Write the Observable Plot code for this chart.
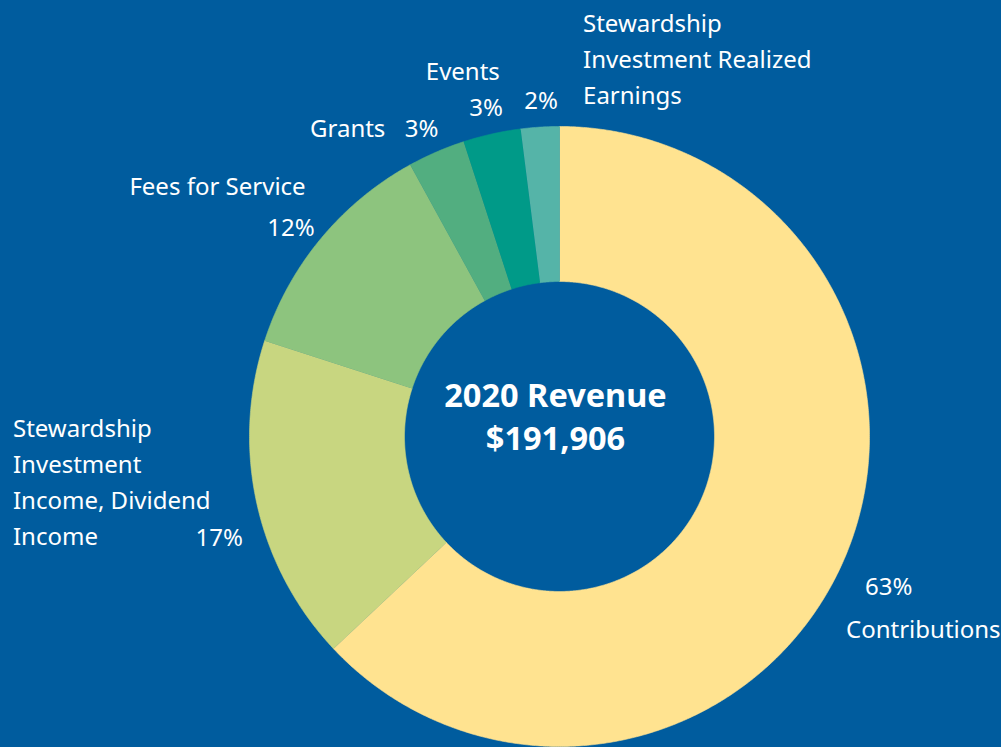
<!DOCTYPE html>
<html>
<head>
<meta charset="utf-8">
<script src="https://cdn.jsdelivr.net/npm/d3@7"></script>
<script src="https://cdn.jsdelivr.net/npm/@observablehq/plot@0.6"></script>
<style>
  html, body { margin: 0; padding: 0; background: #005C9E; }
  #chart svg { display: block; }
</style>
</head>
<body>
<div id="chart"></div>
<script>
// ---- data ----
const categories = [
  "Contributions",
  "Stewardship Investment Income, Dividend Income",
  "Fees for Service",
  "Grants",
  "Events",
  "Stewardship Investment Realized Earnings"
];
const displayNames = [
  "Contributions",
  "Stewardship\nInvestment\nIncome, Dividend\nIncome",
  "Fees for Service",
  "Grants",
  "Events",
  "Stewardship\nInvestment Realized\nEarnings"
];
const shares = [63, 17, 12, 3, 3, 2]; // percent
const centerTitle = "2020 Revenue";
const centerTotal = "$191,906";
const sliceColors = ["#FFE390", "#C8D680", "#8DC47E", "#52AE80", "#009A88", "#55B4A8"];

// ---- layout (pixel offsets from each slice's outer mid-point) ----
const W = 1001, H = 747;
const cx = 559, cy = 436, R = 310, r0 = 155;
const labelLayout = [
  {pct: {dx: 21, dy: 24, anchor: "start"},  name: {dx: 2,    dy: 67,   anchor: "start"}},
  {pct: {dx: -14, dy: 30, anchor: "end"},   name: {dx: -244, dy: -25,  anchor: "start"}},
  {pct: {dx: -6, dy: -14, anchor: "end"},   name: {dx: -15,  dy: -55,  anchor: "end"}},
  {pct: {dx: 2, dy: -27, anchor: "end"},    name: {dx: -51,  dy: -27,  anchor: "end"}},
  {pct: {dx: 11, dy: -29, anchor: "end"},   name: {dx: 8,    dy: -65,  anchor: "end"}},
  {pct: {dx: 18, dy: -30, anchor: "end"},   name: {dx: 43,   dy: -71,  anchor: "start"}}
];

// ---- geometry from data ----
const total = d3.sum(shares);
const rad = Math.PI / 180;
const slices = [];
let acc = 0;
categories.forEach((name, i) => {
  const a0 = acc / total * 360;
  acc += shares[i];
  const a1 = acc / total * 360;
  slices.push({name, a0, a1, mid: (a0 + a1) / 2, i});
});
const polar = (rr, deg) => ({x: rr * Math.sin(deg * rad), y: rr * Math.cos(deg * rad)});

const arcPoints = [];
for (const s of slices) {
  const n = Math.max(4, Math.ceil((s.a1 - s.a0) / 0.4));
  for (let k = 0; k <= n; k++) {
    const a = s.a0 + (s.a1 - s.a0) * k / n;
    arcPoints.push({name: s.name, ...polar(R, a)});
  }
  for (let k = n; k >= 0; k--) {
    const a = s.a0 + (s.a1 - s.a0) * k / n;
    arcPoints.push({name: s.name, ...polar(r0, a)});
  }
}

const labelRows = [];
for (const s of slices) {
  const p = polar(R, s.mid);
  const L = labelLayout[s.i];
  labelRows.push({text: `${shares[s.i]}%`, x: p.x + L.pct.dx, y: p.y - L.pct.dy, anchor: L.pct.anchor});
  labelRows.push({text: displayNames[s.i], x: p.x + L.name.dx, y: p.y - L.name.dy, anchor: L.name.anchor});
}

const chart = Plot.plot({
  width: W,
  height: H,
  margin: 0,
  x: {domain: [-cx, W - cx], axis: null},
  y: {domain: [-(H - cy), cy], axis: null},
  color: {domain: categories, range: sliceColors},
  style: {background: "#005C9E", fontFamily: "'Noto Sans', sans-serif", overflow: "visible"},
  marks: [
    Plot.line(arcPoints, {x: "x", y: "y", z: "name", fill: "name", stroke: "name", strokeWidth: 0.6, curve: "linear"}),
    Plot.text(labelRows.filter(d => d.anchor === "start"), {
      x: "x", y: "y", text: "text", textAnchor: "start", fill: "white",
      fontSize: 24, lineHeight: 1.5
    }),
    Plot.text(labelRows.filter(d => d.anchor === "end"), {
      x: "x", y: "y", text: "text", textAnchor: "end", fill: "white",
      fontSize: 24, lineHeight: 1.5
    }),
    Plot.text([`${centerTitle}\n${centerTotal}`], {
      x: () => 0, y: () => 0, text: d => d, dx: -4, dy: -22,
      fill: "white", fontSize: 32.5, fontWeight: "bold", lineHeight: 1.35
    })
  ]
});
document.getElementById("chart").appendChild(chart);
</script>
</body>
</html>
